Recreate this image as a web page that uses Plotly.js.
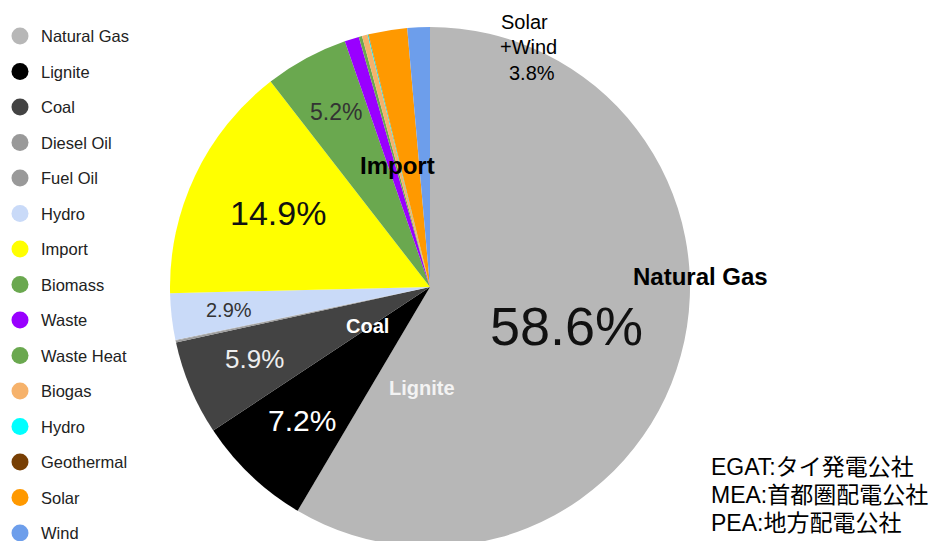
<!DOCTYPE html>
<html>
<head>
<meta charset="utf-8">
<script src="https://cdn.plot.ly/plotly-3.0.1.min.js"></script>
<style>
html,body{margin:0;padding:0;overflow:hidden;background:#fff;}
#chart{width:939px;height:550px;}
</style>
</head>
<body>
<div id="chart"></div>
<script>
// ---- data ----
var categories = ["Natural Gas","Lignite","Coal","Diesel Oil","Fuel Oil","Hydro","Import","Biomass","Waste","Waste Heat","Biogas","Hydro","Geothermal","Solar","Wind"];
var shares = [58.6, 7.2, 5.9, 0.1, 0.05, 2.9, 14.9, 5.2, 0.9, 0.2, 0.35, 0.05, 0.02, 2.4, 1.4];
var colors = ["#b7b7b7","#000000","#434343","#999999","#999999","#c9daf8","#ffff00","#6aa84f","#9900ff","#6aa84f","#f6b26b","#00ffff","#783f04","#ff9900","#6d9eeb"];
var notes = ["EGAT:タイ発電公社","MEA:首都圏配電公社","PEA:地方配電公社"];

var W = 939, H = 550;
function px(x){ return x / W; }
function py(y){ return 1 - y / H; }

var font = "Liberation Sans, Arial, sans-serif";
var cjk = "Liberation Sans, Arial, 'Noto Sans CJK JP', sans-serif";

var pie = {
  type: "pie",
  labels: categories.map(function(c, i){ return i + ":" + c; }),
  values: shares,
  sort: false,
  direction: "clockwise",
  rotation: 0,
  marker: {colors: colors, line: {width: 0}},
  textinfo: "none",
  hoverinfo: "skip",
  showlegend: false,
  domain: {x: [px(170), px(690)], y: [py(547), py(27)]}
};

var idx = categories.map(function(c, i){ return i; });
var legendDots = {
  type: "scatter",
  mode: "markers",
  x: categories.map(function(){ return 20; }),
  y: idx,
  marker: {color: colors, size: 17, symbol: "circle"},
  hoverinfo: "skip",
  showlegend: false,
  xaxis: "x", yaxis: "y"
};

var annotations = [];
categories.forEach(function(c, i){
  annotations.push({xref: "x", yref: "y", x: 39, y: i, text: c, showarrow: false,
    xanchor: "left", yanchor: "middle", font: {family: font, size: 16.5, color: "#222"}});
});

function lab(text, x, y, size, color, bold, anchor){
  annotations.push({xref: "paper", yref: "paper", x: px(x), y: py(y),
    text: bold ? "<b>" + text + "</b>" : text, showarrow: false,
    xanchor: anchor || "center", yanchor: "middle",
    font: {family: font, size: size, color: color}});
}
lab("58.6%", 566, 326, 54, "#111", false);
lab("Natural Gas", 700, 276, 24, "#000", true);
lab("Lignite", 422, 388, 20, "#f3f3f3", true);
lab("7.2%", 302, 420, 30, "#fff", false);
lab("Coal", 367, 326, 20, "#fff", true);
lab("5.9%", 255, 359, 26, "#eee", false);
lab("2.9%", 229, 310, 20, "#333", false);
lab("14.9%", 278, 213, 34, "#111", false);
lab("5.2%", 336, 112, 23, "#333", false);
lab("Import", 397, 165, 24, "#000", true);
lab("Solar", 499, 22, 20, "#000", false, "left");
lab("+Wind", 498, 47, 20, "#000", false, "left");
lab("3.8%", 507, 73, 20, "#000", false, "left");

notes.forEach(function(t, i){
  annotations.push({xref: "paper", yref: "paper", x: px(709), y: py(467 + i * 28),
    text: t, showarrow: false, xanchor: "left", yanchor: "middle",
    font: {family: cjk, size: 23, color: "#000"}});
});

var rowTop = 36, rowStep = 35.5;
var layout = {
  width: W, height: H,
  margin: {l: 0, r: 0, t: 0, b: 0, pad: 0},
  paper_bgcolor: "#fff", plot_bgcolor: "rgba(0,0,0,0)",
  showlegend: false,
  xaxis: {range: [0, W], domain: [0, 1], visible: false, fixedrange: true},
  yaxis: {range: [(H - rowTop) / rowStep, -rowTop / rowStep], domain: [0, 1], visible: false, fixedrange: true},
  annotations: annotations,
  font: {family: font}
};

Plotly.newPlot("chart", [legendDots, pie], layout, {displayModeBar: false, staticPlot: true});
</script>
</body>
</html>
